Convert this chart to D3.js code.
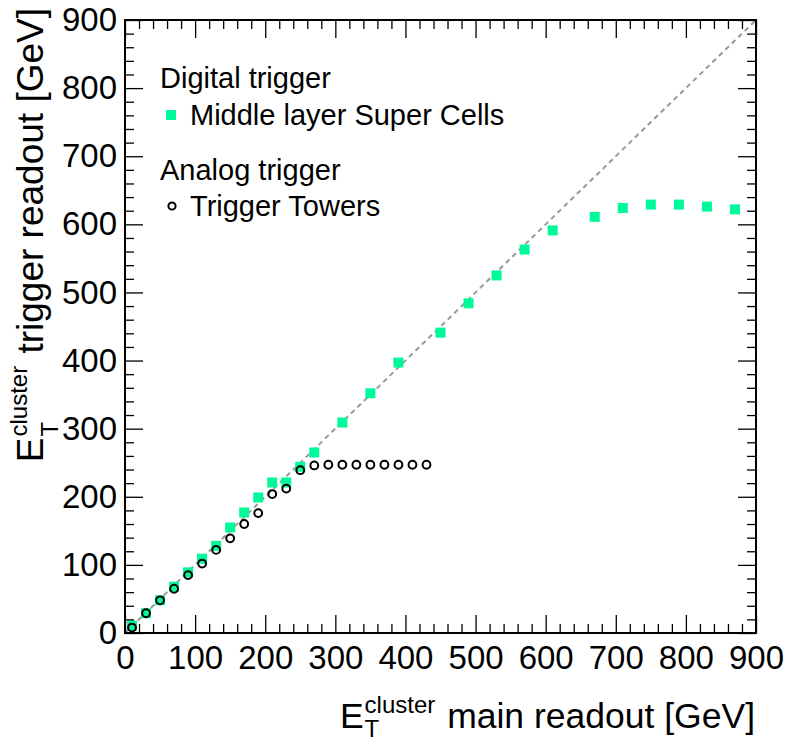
<!DOCTYPE html>
<html><head><meta charset="utf-8">
<script src="https://cdn.jsdelivr.net/npm/d3@7"></script>
<style>
body{margin:0;background:#fff}
text{font-family:"Liberation Sans",Arial,Helvetica,sans-serif;fill:#000}
</style>
</head><body><svg id="c" width="790" height="744"></svg>
<script>
// ---- data ----
const scX = [10,30,50,70,90,110,130,150,170,190,210,230,250,270,310,350,390,450,490,530,570,610,670,710,750,790,830,870];
const scY = [11,29,48,68,89,109,128,155,177,199,221,221,244,265,309,352,397,441,484,525,563,591,611,624,629,629,626,622];
const ttX = [10,30,50,70,90,110,130,150,170,190,210,230,250,270,290,310,330,350,370,390,410,430];
const ttY = [8,29,48,65,85,102,122,139,160,176,204,212,239,246,247,247,247,247,247,247,247,247];
const xTicks = [0,100,200,300,400,500,600,700,800,900];
const yTicks = [0,100,200,300,400,500,600,700,800,900];
const minorStep = 20;
const legendHeaders = ["Digital trigger","Analog trigger"];
const legendEntries = ["Middle layer Super Cells","Trigger Towers"];
const xTitle = {main:"E", sub:"T", sup:"cluster", rest:" main readout [GeV]"};
const yTitle = {main:"E", sub:"T", sup:"cluster", rest:" trigger readout [GeV]"};

// ---- layout ----
const L=125, R=756, T=20, B=633;
const GREEN = "#00FA9A";
const svg = d3.select("#c");
svg.append("rect").attr("width",790).attr("height",744).attr("fill","#fff");

const x = d3.scaleLinear().domain([0,900]).range([L,R]);
const y = d3.scaleLinear().domain([0,900]).range([B,T]);

// diagonal reference
svg.append("line")
  .attr("x1",x(0)).attr("y1",y(0)).attr("x2",x(900)).attr("y2",y(900))
  .attr("stroke","#999").attr("stroke-width",2).attr("stroke-dasharray","5,4");

// super cells
const sc = scX.map((d,i)=>({x:d,y:scY[i]}));
svg.append("g").selectAll("rect").data(sc).join("rect")
  .attr("x",d=>x(d.x)-5).attr("y",d=>y(d.y)-5).attr("width",10).attr("height",10)
  .attr("fill",GREEN);

// trigger towers
const tt = ttX.map((d,i)=>({x:d,y:ttY[i]}));
svg.append("g").selectAll("circle").data(tt).join("circle")
  .attr("cx",d=>x(d.x)).attr("cy",d=>y(d.y)).attr("r",3.9)
  .attr("fill","none").attr("stroke","#000").attr("stroke-width",2);

// axes
const minors = d3.range(0,901,minorStep).filter(v=>v%100!==0);
function axis(gen, tr, vals, size, labels, pad){
  const g = svg.append("g").attr("transform",tr)
    .call(gen.tickValues(vals).tickSize(size).tickPadding(pad||0)
      .tickFormat(labels?d3.format("d"):""));
  g.select(".domain").remove();
  g.selectAll("line").attr("stroke","#000").attr("stroke-width",1.3);
  g.selectAll("text").style("font-size","33px").attr("fill","#000");
  return g;
}
axis(d3.axisBottom(x),`translate(0,${B})`,xTicks,-18,true,13);
axis(d3.axisBottom(x),`translate(0,${B})`,minors,-9,false);
axis(d3.axisTop(x),`translate(0,${T})`,xTicks,-18,false);
axis(d3.axisTop(x),`translate(0,${T})`,minors,-9,false);
axis(d3.axisLeft(y),`translate(${L},0)`,yTicks,-18,true,8);
axis(d3.axisLeft(y),`translate(${L},0)`,minors,-9,false);
axis(d3.axisRight(y),`translate(${R},0)`,yTicks,-18,false);
axis(d3.axisRight(y),`translate(${R},0)`,minors,-9,false);

svg.append("rect").attr("x",L).attr("y",T).attr("width",R-L).attr("height",B-T)
  .attr("fill","none").attr("stroke","#000").attr("stroke-width",2);

// titles
function title(t, fs, sfs, subDy){
  const g = svg.append("g");
  const e = g.append("text").attr("x",0).attr("y",0).style("font-size",fs+"px").text(t.main);
  const ew = e.node().getComputedTextLength();
  const sp = g.append("text").attr("x",ew+1).attr("y",-fs*0.42).style("font-size",sfs+"px").text(t.sup);
  const sb = g.append("text").attr("x",ew+1).attr("y",subDy).style("font-size",sfs+"px").text(t.sub);
  const sw = Math.max(sp.node().getComputedTextLength(), sb.node().getComputedTextLength());
  const r = g.append("text").attr("x",ew+3+sw).attr("y",0).style("font-size",fs+"px")
    .attr("xml:space","preserve").style("white-space","pre").text(t.rest);
  const w = ew+3+sw+r.node().getComputedTextLength();
  return {g,w};
}
const xt = title(xTitle,35.5,24,9);
xt.g.attr("transform",`translate(${755-xt.w},728)`);
const yt = title(yTitle,37,24,15);
yt.g.attr("transform",`translate(43,${8+yt.w}) rotate(-90)`);

// legend
const lg = svg.append("g");
lg.append("text").attr("x",160).attr("y",88).style("font-size","29px").text(legendHeaders[0]);
lg.append("rect").attr("x",166).attr("y",110).attr("width",10).attr("height",10).attr("fill",GREEN);
lg.append("text").attr("x",190).attr("y",125).style("font-size","29px").text(legendEntries[0]);
lg.append("text").attr("x",160).attr("y",180).style("font-size","29px").text(legendHeaders[1]);
lg.append("circle").attr("cx",172).attr("cy",206).attr("r",3.6).attr("fill","none").attr("stroke","#000").attr("stroke-width",2);
lg.append("text").attr("x",190).attr("y",216).style("font-size","29px").text(legendEntries[1]);
</script></body></html>
